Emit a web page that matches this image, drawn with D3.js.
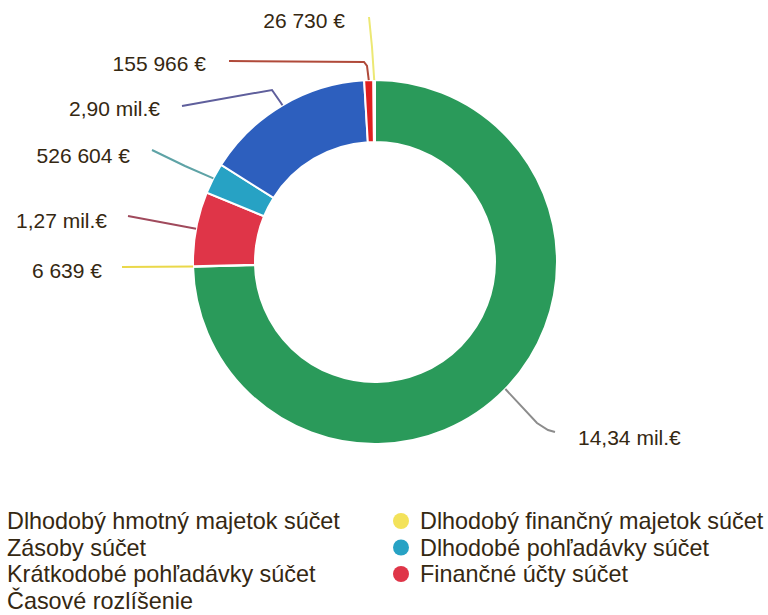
<!DOCTYPE html>
<html>
<head>
<meta charset="utf-8">
<script src="https://cdn.jsdelivr.net/npm/d3@7"></script>
<style>
  body { margin: 0; background: #fff; }
  svg { display: block; font-family: "Liberation Sans", Arial, sans-serif; }
</style>
</head>
<body>
<svg id="chart" width="768" height="615"></svg>
<script>
// slices in drawing order (clockwise from 12 o'clock)
const categories = [
  "Dlhodobý hmotný majetok súčet",
  "Časové rozlíšenie",
  "Finančné účty súčet",
  "Dlhodobé pohľadávky súčet",
  "Krátkodobé pohľadávky súčet",
  "Zásoby súčet",
  "Dlhodobý finančný majetok súčet"
];
const values = [14340000, 6639, 1270000, 526604, 2900000, 155966, 26730];
const valueLabels = ["14,34 mil.€", "6 639 €", "1,27 mil.€", "526 604 €", "2,90 mil.€", "155 966 €", "26 730 €"];

// legend is laid out column by column
const legendItems = [
  "Dlhodobý hmotný majetok súčet",
  "Zásoby súčet",
  "Krátkodobé pohľadávky súčet",
  "Časové rozlíšenie",
  "Dlhodobý finančný majetok súčet",
  "Dlhodobé pohľadávky súčet",
  "Finančné účty súčet"
];

const colors = ["#2a9a5a", "#f2e46a", "#df3548", "#27a2c4", "#2d5fbe", "#e01f1f", "#f3e25a"];
const lineColors = ["#8c8c8c", "#ead84a", "#a04a5c", "#5ea3a6", "#5f5f9c", "#b04a3a", "#ece874"];

const cx = 375, cy = 262, R = 182, r = 120;

// label layout relative to the donut centre: text anchor point + leader bend points
const labelLayout = [
  { x: 203, y: 175, anchor: "start", pts: [[162, 161], [173, 168], [180, 170]] },
  { x: -273, y: 8, anchor: "end", pts: [[-253, 5]] },
  { x: -268, y: -42, anchor: "end", pts: [[-247, -46]] },
  { x: -245, y: -107, anchor: "end", pts: [[-190, -96], [-223, -112]] },
  { x: -215, y: -154, anchor: "end", pts: [[-94, -159], [-103, -172], [-193, -156]] },
  { x: -169, y: -199, anchor: "end", pts: [[-8, -196], [-11, -200], [-146, -201]] },
  { x: -30, y: -242, anchor: "end", pts: [[-3, -215], [-5, -235], [-6, -245]] }
];

const color = d3.scaleOrdinal(categories, colors);

const svg = d3.select("#chart");
const g = svg.append("g").attr("transform", `translate(${cx},${cy})`);

const pie = d3.pie().sort(null).value(d => d.value);
const arcs = pie(categories.map((c, i) => ({ name: c, value: values[i], i })));

const arc = d3.arc().innerRadius(r).outerRadius(R);
const edge = d3.arc().innerRadius(R).outerRadius(R);

g.selectAll("path.slice")
  .data(arcs)
  .join("path")
  .attr("class", "slice")
  .attr("d", arc)
  .attr("fill", d => color(d.data.name))
  .attr("stroke", "#fff")
  .attr("stroke-width", 2);

const line = d3.line().curve(d3.curveLinear);

g.selectAll("path.leader")
  .data(arcs)
  .join("path")
  .attr("class", "leader")
  .attr("d", d => line([edge.centroid(d), ...labelLayout[d.index].pts]))
  .attr("fill", "none")
  .attr("stroke", d => lineColors[d.index])
  .attr("stroke-width", 2);

g.selectAll("text.lbl")
  .data(arcs)
  .join("text")
  .attr("class", "lbl")
  .attr("x", d => labelLayout[d.index].x)
  .attr("y", d => labelLayout[d.index].y)
  .attr("text-anchor", d => labelLayout[d.index].anchor)
  .attr("dominant-baseline", "central")
  .attr("font-size", 21)
  .attr("fill", "#352812")
  .text(d => valueLabels[d.index]);

// legend: two columns, left markers sit off the canvas edge like in the source
const legend = svg.append("g");
const perCol = 4, colX = [7, 420], rowY = 521, rowH = 26.5;

const item = legend.selectAll("g")
  .data(legendItems)
  .join("g")
  .attr("transform", (d, i) => `translate(${colX[Math.floor(i / perCol)]},${rowY + (i % perCol) * rowH})`);

item.append("circle")
  .attr("cx", -19)
  .attr("r", 8)
  .attr("fill", d => color(d));

item.append("text")
  .attr("dominant-baseline", "central")
  .attr("font-size", 23.4)
  .attr("fill", "#352812")
  .text(d => d);
</script>
</body>
</html>
